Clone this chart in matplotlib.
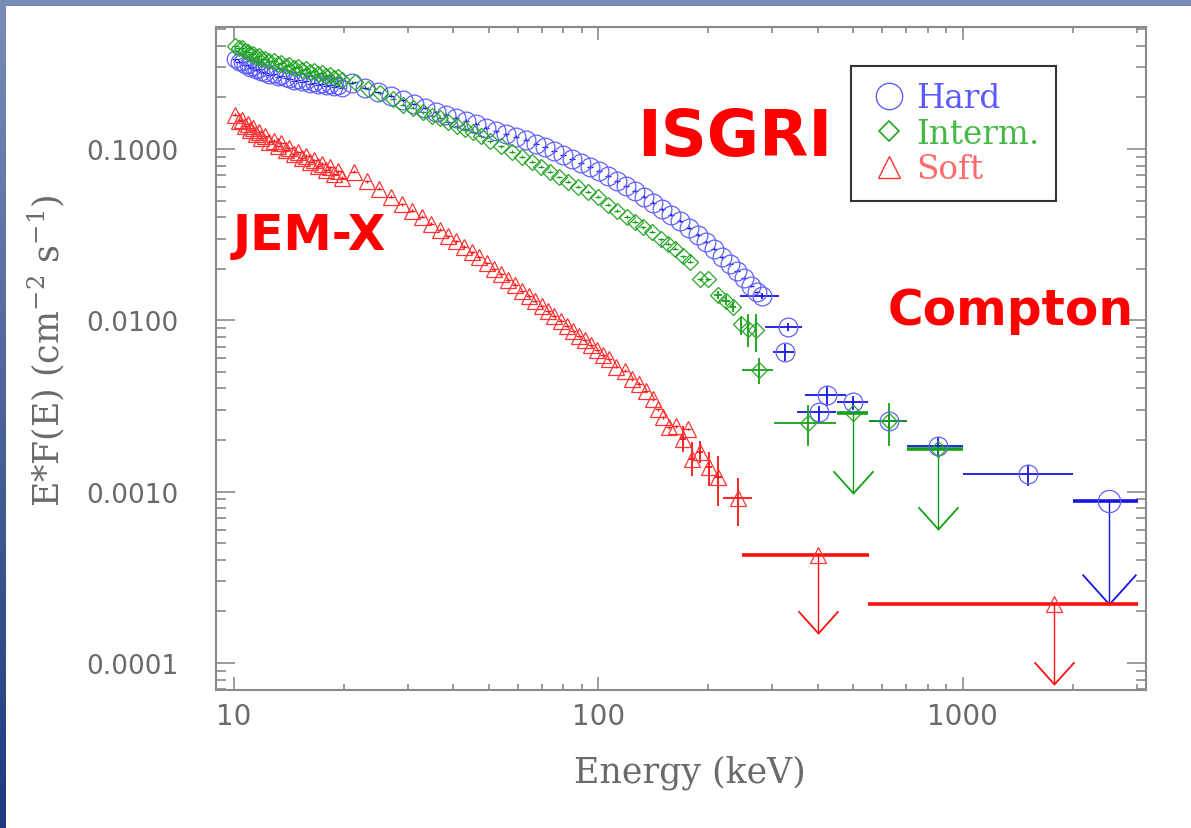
import numpy as np
import matplotlib
matplotlib.use("Agg")
import matplotlib.pyplot as plt
from matplotlib.path import Path
from matplotlib.patches import Rectangle
from matplotlib.lines import Line2D
from matplotlib.ticker import FixedLocator, FixedFormatter, NullFormatter

plt.rcParams['mathtext.fontset'] = 'dejavuserif'

# ---------------- data ----------------
# JEM-X energies (keV), common to the three spectral states
jemx_energy = [10.1, 10.3, 10.5, 10.7, 10.9, 11.1, 11.3, 11.5, 11.7, 11.9,
               12.2, 12.5, 12.9, 13.2, 13.5, 13.9, 14.2, 14.6, 15.0, 15.4,
               15.8, 16.2, 16.6, 17.0, 17.4, 17.9, 18.3, 18.8, 19.3, 19.8]
hard_jemx = [0.335, 0.322, 0.320, 0.310, 0.307, 0.298, 0.299, 0.290, 0.291, 0.280,
             0.279, 0.271, 0.272, 0.264, 0.265, 0.258, 0.257, 0.250, 0.254, 0.246,
             0.248, 0.240, 0.244, 0.237, 0.241, 0.233, 0.237, 0.230, 0.234, 0.228]
interm_jemx = [0.399, 0.386, 0.386, 0.371, 0.370, 0.356, 0.356, 0.346, 0.347, 0.337,
               0.337, 0.324, 0.324, 0.315, 0.316, 0.306, 0.308, 0.298, 0.300, 0.290,
               0.292, 0.283, 0.284, 0.275, 0.277, 0.268, 0.270, 0.261, 0.263, 0.253]
soft_jemx = [0.158, 0.146, 0.147, 0.136, 0.139, 0.129, 0.133, 0.123, 0.125, 0.116,
             0.119, 0.110, 0.112, 0.104, 0.108, 0.098, 0.101, 0.093, 0.096, 0.088,
             0.091, 0.084, 0.086, 0.079, 0.082, 0.075, 0.078, 0.071, 0.074, 0.068]

# ISGRI spectra
hard_isgri_energy = [21.1, 22.9, 24.8, 27.0, 29.1, 31.2, 33.4, 35.8, 38.2, 40.7,
                     43.3, 46.1, 49.1, 52.3, 55.8, 59.4, 63.3, 67.4, 71.3, 75.5,
                     79.9, 84.6, 89.5, 94.8, 100.3, 106.2, 112.4, 119.0, 126.0, 133.3,
                     141.1, 149.4, 158.1, 167.4, 177.2, 187.5, 197.2, 207.4, 218.2, 229.5,
                     239.9, 250.7, 262.0, 272.2]
hard_isgri_flux = [0.243, 0.227, 0.215, 0.204, 0.193, 0.183, 0.174, 0.164, 0.158, 0.152,
                   0.146, 0.140, 0.133, 0.127, 0.122, 0.118, 0.113, 0.107, 0.103, 0.0973,
                   0.0922, 0.0874, 0.0829, 0.0785, 0.0744, 0.0696, 0.0650, 0.0608, 0.0569, 0.0525,
                   0.0484, 0.0446, 0.0412, 0.0380, 0.0346, 0.0315, 0.0287, 0.0261, 0.0234, 0.0213,
                   0.0194, 0.0177, 0.0159, 0.0146]

interm_isgri_energy = [21.5, 23.3, 25.2, 27.3, 29.1, 31.0, 33.0, 34.9, 36.8, 38.7,
                       40.9, 43.0, 45.3, 47.6, 50.4, 54.0, 57.9, 61.7, 65.7, 69.6,
                       73.6, 77.9, 82.5, 87.8, 93.6, 99.7, 106.2, 112.4, 119.8, 126.0,
                       132.5, 140.2, 148.4, 155.1, 162.2, 170.6, 178.2, 189.9, 199.8]
interm_isgri_flux = [0.246, 0.224, 0.212, 0.196, 0.181, 0.174, 0.164, 0.156, 0.152, 0.144,
                     0.136, 0.131, 0.126, 0.119, 0.111, 0.104, 0.0961, 0.0898, 0.0840, 0.0785,
                     0.0734, 0.0686, 0.0642, 0.0600, 0.0561, 0.0525, 0.0471, 0.0435, 0.0401, 0.0375,
                     0.0350, 0.0328, 0.0298, 0.0279, 0.0261, 0.0237, 0.0219, 0.0174, 0.0174]

soft_isgri_energy = [21.3, 23.2, 25.0, 27.0, 28.9, 30.8, 32.8, 34.7, 36.8, 38.7,
                     40.6, 42.8, 45.0, 47.0, 49.4, 51.7, 54.0, 56.5, 59.0, 61.7,
                     64.5, 67.0, 70.0, 72.7, 75.5, 78.9, 82.0, 85.1, 88.4, 91.8,
                     95.4, 99.0, 102.9, 106.9, 111.7, 118.2, 123.6, 129.2, 135.0, 141.1,
                     145.6, 150.3, 156.1, 163.2, 176.1]
soft_isgri_flux = [0.0734, 0.0650, 0.0584, 0.0525, 0.0477, 0.0435, 0.0401, 0.0365, 0.0337, 0.0310,
                   0.0290, 0.0268, 0.0250, 0.0234, 0.0216, 0.0199, 0.0186, 0.0172, 0.0161, 0.0148,
                   0.0139, 0.0130, 0.0121, 0.0113, 0.0106, 0.00991, 0.00927, 0.00866, 0.00810, 0.00767,
                   0.00717, 0.00671, 0.00627, 0.00594, 0.00534, 0.00506, 0.00454, 0.00425, 0.00387, 0.00347,
                   0.00303, 0.00272, 0.00238, 0.00241, 0.00232]

# half-size of the small ISGRI error bars (relative)
isgri_rel_err = 0.02

# wide-bin points with explicit errors: energy, low/high bin edge, flux, low/high flux
hard_bin_energy = [281, 331, 325, 424, 499, 402, 627, 853, 1507]
hard_bin_elo = [245, 286, 301, 368, 451, 350, 552, 702, 1000]
hard_bin_ehi = [312, 363, 345, 477, 548, 448, 702, 1000, 2003]
hard_bin_flux = [0.0139, 0.00914, 0.00653, 0.00368, 0.00332, 0.00290, 0.00258, 0.00185, 0.00127]
hard_bin_flo = [0.0133, 0.0087, 0.0058, 0.00316, 0.0030, 0.00254, 0.0023, 0.00159, 0.00108]
hard_bin_fhi = [0.0145, 0.0096, 0.0073, 0.00413, 0.0036, 0.00318, 0.0029, 0.00207, 0.00143]

interm_bin_energy = [212.8, 223.8, 233.9, 246.0, 257.2, 270.5, 275.6, 376, 627]
interm_bin_elo = [208, 219, 229, 244, 255, 268, 248, 303, 552]
interm_bin_ehi = [218, 229, 239, 248, 259, 273, 301, 448, 702]
interm_bin_flux = [0.0141, 0.0130, 0.0120, 0.00952, 0.00890, 0.00877, 0.00513, 0.00252, 0.00258]
interm_bin_flo = [0.0133, 0.0122, 0.0112, 0.0082, 0.0070, 0.00653, 0.00425, 0.00185, 0.00185]
interm_bin_fhi = [0.0149, 0.0138, 0.0128, 0.0105, 0.0109, 0.0109, 0.00603, 0.0032, 0.00329]

soft_bin_energy = [170.6, 180.5, 189.9, 201.1, 212.8, 241.4]
soft_bin_elo = [167, 177, 186, 197, 208, 220]
soft_bin_ehi = [174, 184, 194, 205, 218, 264]
soft_bin_flux = [0.00203, 0.00155, 0.00170, 0.00139, 0.00122, 0.000918]
soft_bin_flo = [0.00170, 0.00123, 0.00147, 0.00108, 0.000824, 0.00063]
soft_bin_fhi = [0.00241, 0.00195, 0.00197, 0.00170, 0.00161, 0.0012]

# upper limits: energy, bin edges, limit value, arrow tip
hard_ul_energy = [2515]
hard_ul_elo = [2003]
hard_ul_ehi = [3020]
hard_ul_flux = [0.00088]
hard_ul_tip = [0.000221]

interm_ul_energy = [499, 853]
interm_ul_elo = [451, 702]
interm_ul_ehi = [548, 1000]
interm_ul_flux = [0.00288, 0.00177]
interm_ul_tip = [0.00098, 0.000605]

soft_ul_energy = [400, 1777]
soft_ul_elo = [248, 548]
soft_ul_ehi = [552, 3020]
soft_ul_flux = [0.000427, 0.000221]
soft_ul_tip = [0.000149, 0.000075]

state_labels = ["Hard", "Interm.", "Soft"]
y_tick_values = [1e-4, 1e-3, 1e-2, 1e-1]
y_tick_labels = ["0.0001", "0.0010", "0.0100", "0.1000"]
x_tick_values = [10, 100, 1000]
x_tick_labels = ["10", "100", "1000"]

# ---------------- styling ----------------
BLUE_M, BLUE_E = '#6060ff', '#1414e6'
GREEN_M, GREEN_E = '#26a626', '#14a014'
RED_M, RED_E = '#ff3333', '#ff1010'
AXIS_GRAY = '#8a8a8a'
TEXT_GRAY = '#6a6a6a'

W, H = 1191, 829
fig = plt.figure(figsize=(W / 100, H / 100), dpi=100)

# slide backdrop: blue gradient band along the top and left edges
bg = fig.add_axes([0, 0, 1, 1], zorder=0)
t = np.linspace(0, 1, 256)[:, None, None]
top_rgb = np.array([0.47, 0.55, 0.72])[None, None, :]
bot_rgb = np.array([0.11, 0.23, 0.49])[None, None, :]
grad = top_rgb * (1 - t) + bot_rgb * t
bg.imshow(grad, extent=[0, 1, 0, 1], aspect='auto', origin='upper')
bg.add_patch(Rectangle((6 / W, 0), 1, 1 - 7 / H, facecolor='white', edgecolor='none'))
bg.set_xlim(0, 1)
bg.set_ylim(0, 1)
bg.axis('off')

ax = fig.add_axes([216 / W, 1 - 691 / H, 930 / W, 663 / H], zorder=2)
ax.set_xscale('log')
ax.set_yscale('log')
ax.set_xlim(8.93, 3180)
ax.set_ylim(6.95e-5, 0.515)

chevron = Path([(-0.9, 1.0), (0.0, 0.0), (0.9, 1.0)],
               [Path.MOVETO, Path.LINETO, Path.LINETO])


def small_errors(energy, flux, marker, ms, mcol, ecol):
    e = np.asarray(energy)
    f = np.asarray(flux)
    ax.errorbar(e, f, xerr=isgri_rel_err * e, yerr=isgri_rel_err * f,
                fmt=marker, ms=ms, mfc='none', mec=mcol, mew=0.9,
                ecolor=ecol, elinewidth=0.9, capsize=0, zorder=3)


def binned(energy, elo, ehi, flux, flo, fhi, marker, ms, mcol, ecol):
    e = np.asarray(energy, float)
    f = np.asarray(flux, float)
    xerr = [e - np.asarray(elo), np.asarray(ehi) - e]
    yerr = [f - np.asarray(flo), np.asarray(fhi) - f]
    ax.errorbar(e, f, xerr=xerr, yerr=yerr, fmt=marker, ms=ms, mfc='none',
                mec=mcol, mew=0.9, ecolor=ecol, elinewidth=1.3, capsize=0, zorder=3)


def limits(energy, elo, ehi, flux, tip, marker, ms, mcol, ecol, head):
    for e, lo, hi, f, tp in zip(energy, elo, ehi, flux, tip):
        ax.errorbar([e], [f], xerr=[[e - lo], [hi - e]], fmt=marker, ms=ms,
                    mfc='none', mec=mcol, mew=0.9, ecolor=ecol, elinewidth=2.6,
                    capsize=0, zorder=3)
        ax.plot([e, e], [f, tp], color=ecol, lw=1.0, zorder=3)
        ax.plot([e], [tp], marker=chevron, ms=head, mfc='none', mec=ecol,
                mew=1.3, ls='none', zorder=3)


# hard state (circles)
small_errors(jemx_energy, hard_jemx, 'o', 12, BLUE_M, BLUE_E)
small_errors(hard_isgri_energy, hard_isgri_flux, 'o', 13.5, BLUE_M, BLUE_E)
binned(hard_bin_energy, hard_bin_elo, hard_bin_ehi, hard_bin_flux,
       hard_bin_flo, hard_bin_fhi, 'o', 13.5, BLUE_M, BLUE_E)
limits(hard_ul_energy, hard_ul_elo, hard_ul_ehi, hard_ul_flux, hard_ul_tip,
       'o', 16, BLUE_M, BLUE_E, 43)

# intermediate state (diamonds)
small_errors(jemx_energy, interm_jemx, 'D', 8.5, GREEN_M, GREEN_E)
small_errors(interm_isgri_energy, interm_isgri_flux, 'D', 8.5, GREEN_M, GREEN_E)
binned(interm_bin_energy, interm_bin_elo, interm_bin_ehi, interm_bin_flux,
       interm_bin_flo, interm_bin_fhi, 'D', 8.5, GREEN_M, GREEN_E)
limits(interm_ul_energy, interm_ul_elo, interm_ul_ehi, interm_ul_flux, interm_ul_tip,
       'D', 8.5, GREEN_M, GREEN_E, 32)

# soft state (triangles)
small_errors(jemx_energy, soft_jemx, '^', 12, RED_M, RED_E)
small_errors(soft_isgri_energy, soft_isgri_flux, '^', 12, RED_M, RED_E)
binned(soft_bin_energy, soft_bin_elo, soft_bin_ehi, soft_bin_flux,
       soft_bin_flo, soft_bin_fhi, '^', 12, RED_M, RED_E)
limits(soft_ul_energy, soft_ul_elo, soft_ul_ehi, soft_ul_flux, soft_ul_tip,
       '^', 12, RED_M, RED_E, 32)

# ---------------- axes ----------------
for sp in ax.spines.values():
    sp.set_color(AXIS_GRAY)
    sp.set_linewidth(1.5)

ax.xaxis.set_major_locator(FixedLocator(x_tick_values))
ax.xaxis.set_major_formatter(FixedFormatter(x_tick_labels))
x_minor = [m * d for d in (10, 100, 1000) for m in range(2, 10) if m * d < 3180]
ax.xaxis.set_minor_locator(FixedLocator(x_minor))
ax.xaxis.set_minor_formatter(NullFormatter())

ax.yaxis.set_major_locator(FixedLocator(y_tick_values))
ax.yaxis.set_major_formatter(FixedFormatter(y_tick_labels))
y_minor = [m * d for d in (1e-5, 1e-4, 1e-3, 1e-2, 1e-1) for m in range(2, 10)
           if 6.95e-5 < m * d < 0.515]
ax.yaxis.set_minor_locator(FixedLocator(y_minor))
ax.yaxis.set_minor_formatter(NullFormatter())

ax.tick_params(which='both', direction='in', top=True, right=True, color=AXIS_GRAY, width=1.2)
ax.tick_params(axis='x', which='major', length=9.5, pad=9, labelsize=20, labelcolor=TEXT_GRAY)
ax.tick_params(axis='x', which='minor', length=4.5)
ax.tick_params(axis='y', which='major', length=14, pad=27, labelsize=19, labelcolor=TEXT_GRAY)
ax.tick_params(axis='y', which='minor', length=7.5)

ax.set_xlabel("Energy (keV)", family='DejaVu Serif', fontsize=25, color=TEXT_GRAY)
ax.xaxis.set_label_coords(0.51, -0.097)
ax.set_ylabel(r"E$*$F(E) (cm$^{-2}$ s$^{-1}$)", family='DejaVu Serif', fontsize=25,
              color=TEXT_GRAY)
ax.yaxis.set_label_coords(-0.160, 0.513)

# instrument labels
ax.text(0.558, 0.834, "ISGRI", transform=ax.transAxes, color='red', fontsize=46,
        fontweight='bold', ha='center', va='center', zorder=4)
ax.text(0.100, 0.686, "JEM-X", transform=ax.transAxes, color='red', fontsize=35,
        fontweight='bold', ha='center', va='center', zorder=4)
ax.text(0.854, 0.573, "Compton", transform=ax.transAxes, color='red', fontsize=35,
        fontweight='bold', ha='center', va='center', zorder=4)

# legend
handles = [Line2D([], [], ls='none', marker='o', ms=19, mfc='none', mec=BLUE_M, mew=1.0),
           Line2D([], [], ls='none', marker='D', ms=10.5, mfc='none', mec=GREEN_M, mew=1.2),
           Line2D([], [], ls='none', marker='^', ms=16, mfc='none', mec=RED_M, mew=1.0)]
leg = ax.legend(handles, state_labels, loc='upper left', bbox_to_anchor=(0.683, 0.941),
                frameon=True, fancybox=False, framealpha=1, edgecolor='#333333',
                prop={'family': 'DejaVu Serif', 'size': 23.5},
                labelcolor=['#5a5aff', '#44b844', '#ff6b6b'],
                borderpad=0.5, handlelength=1.3, handletextpad=0.2, labelspacing=0.1,
                borderaxespad=0)
leg.get_frame().set_linewidth(1.5)
leg.set_zorder(5)

fig.savefig("out.png", dpi=100)
